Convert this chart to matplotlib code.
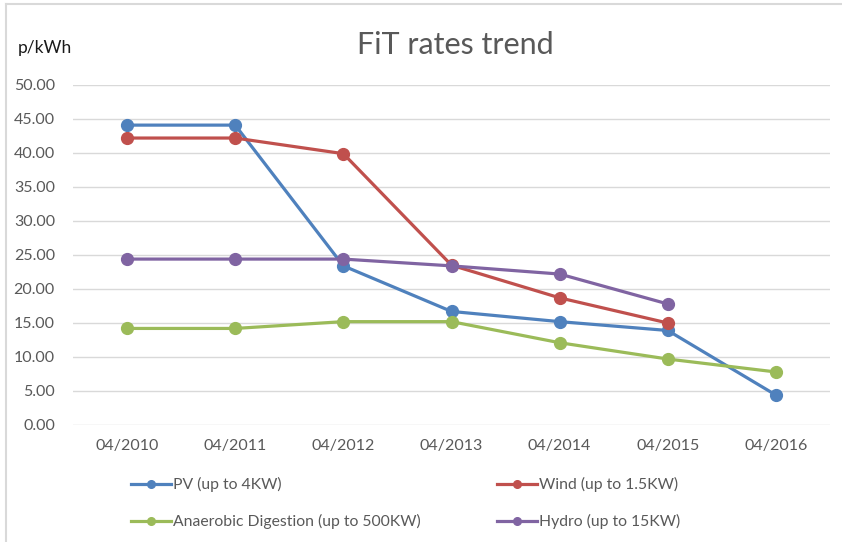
import matplotlib
matplotlib.use("Agg")
import matplotlib.pyplot as plt
from matplotlib.lines import Line2D

categories = ["04/2010", "04/2011", "04/2012", "04/2013", "04/2014", "04/2015", "04/2016"]
pv = [44.1, 44.1, 23.4, 16.7, 15.2, 13.9, 4.4]
wind = [42.2, 42.2, 39.9, 23.5, 18.7, 15.0, None]
ad = [14.2, 14.2, 15.2, 15.2, 12.1, 9.7, 7.8]
hydro = [24.4, 24.4, 24.4, 23.4, 22.2, 17.8, None]
series_names = ["PV (up to 4KW)", "Wind (up to 1.5KW)",
                "Anaerobic Digestion (up to 500KW)", "Hydro (up to 15KW)"]
yticks = [0, 5, 10, 15, 20, 25, 30, 35, 40, 45, 50]

colors = ["#4F81BD", "#C0504D", "#9BBB59", "#8064A2"]
plt.rcParams['font.family'] = ['Lato', 'DejaVu Sans']

W, H = 842, 542
fig = plt.figure(figsize=(W / 100, H / 100), dpi=100)
ax = fig.add_axes([73 / W, 1 - 425 / H, (830 - 73) / W, (425 - 85) / H])

x = list(range(len(categories)))
for vals, c, name in zip([pv, wind, ad, hydro], colors, series_names):
    xs = [i for i, v in zip(x, vals) if v is not None]
    ys = [v for v in vals if v is not None]
    ax.plot(xs, ys, color=c, lw=2.3, marker='o', ms=8.5, zorder=3,
            solid_capstyle='round')

ax.set_xlim(-0.5, len(categories) - 0.5)
ax.set_ylim(0, 50)
ax.set_yticks(yticks)
ax.set_yticklabels([f"{v:.2f}" for v in yticks])
ax.set_xticks(x)
ax.set_xticklabels(categories)
ax.grid(axis='y', color='#D9D9D9', lw=1)
ax.set_axisbelow(True)
for s in ax.spines.values():
    s.set_visible(False)
ax.tick_params(axis='both', length=0, labelsize=11.5, labelcolor='#595959')
ax.tick_params(axis='x', pad=10)
ax.tick_params(axis='y', pad=13)

fig.text(455 / W, 1 - 45 / H, "FiT rates trend", ha='center', va='center',
         fontsize=22, color='#595959')
fig.text(18 / W, 1 - 48 / H, "p/kWh", ha='left', va='center',
         fontsize=12.5, color='#1a1a1a')

# legend entries
legend_pos = [(131, 484), (497, 484), (131, 521), (497, 521)]
for (lx, ly), c, name in zip(legend_pos, colors, series_names):
    fx0, fx1 = lx / W, (lx + 40) / W
    fy = 1 - ly / H
    fig.add_artist(Line2D([fx0, fx1], [fy, fy], color=c, lw=2.3,
                          transform=fig.transFigure))
    fig.add_artist(Line2D([(fx0 + fx1) / 2], [fy], color=c, marker='o', ms=5.5,
                          transform=fig.transFigure))
    fig.text((lx + 42) / W, fy, name, ha='left', va='center',
             fontsize=11.3, color='#595959')

# chart border (left and top visible)
fig.add_artist(Line2D([5.5 / W, 5.5 / W], [0, 1 - 3.5 / H], color='#D9D9D9',
                      lw=1.5, transform=fig.transFigure))
fig.add_artist(Line2D([5.5 / W, 1], [1 - 3.5 / H, 1 - 3.5 / H], color='#D9D9D9',
                      lw=1.5, transform=fig.transFigure))

fig.savefig("out.png", dpi=100)
